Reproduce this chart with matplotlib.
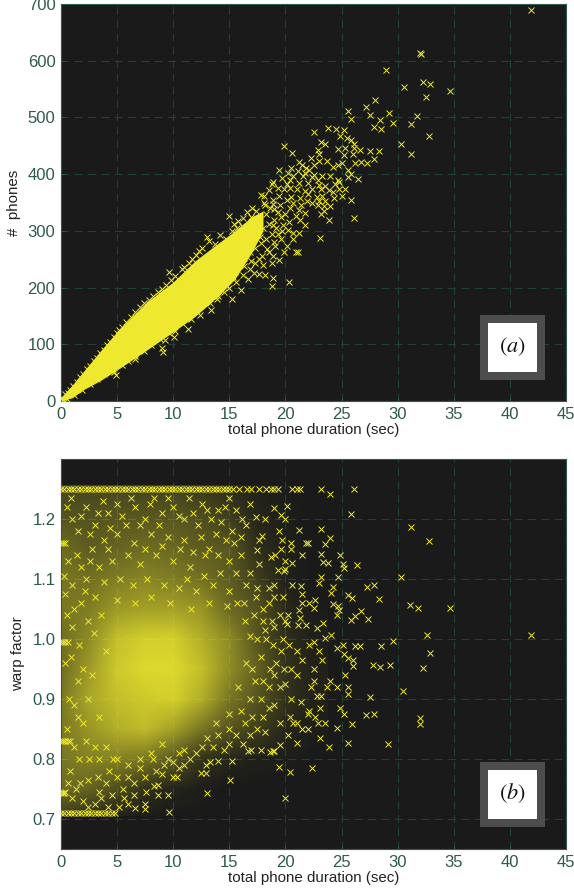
import numpy as np
import matplotlib
matplotlib.use("Agg")
import matplotlib.pyplot as plt
from matplotlib.colors import ListedColormap
from matplotlib.patches import Rectangle

# ---------- panel (a): crosses ----------
a_points = [(41.9,689),(32.0,614),(32.05,611),(29.0,583),(30.6,554),(32.3,563),(32.9,559),(34.65,547),(32.55,536),(28.0,530),
(27.2,518),(25.6,512),(27.5,505),(29.2,507),(25.8,498),(28.4,496),(29.6,491),(31.7,502),(31.2,489),(27.9,483),(28.5,479),
(23.8,481),(24.5,479),(25.2,477),(22.5,475),(32.75,467),(24.9,467),(25.5,463),(25.8,461),(30.3,454),(31.2,436),(19.9,449),
(20.6,437),(23.2,456),(23.5,453),(24.7,444),(25.3,446),(26.1,454),(26.1,446),(26.6,443),(26,436),(27.5,440),(28.3,440),
(27.9,426),(27.3,419),(26.7,422),(26.2,420),(25.2,434),(25,420),(24.7,416),(24.2,412),(23.7,424),(23,423),(23,436),(22.9,443),
(22.3,429),(22.5,417),(21.2,421),(21.5,417),(21.8,411),(21.1,405),(19.4,408),(20.2,402),(25.6,408),(25.8,401),(25.6,395),
(26.5,392),(22.5,399),(22.4,395),(23.3,396),(24,396),(24.7,390),(24.8,387),(19.7,393),(18.8,383),(18.9,387),(20.4,390),
(20.7,396),(21.6,396),(23,381),(23.5,379),(23.2,373),(24.2,368),(25,361),(25.3,373),(24.8,373),(25.8,355),(26.1,322),(24,343),
(23.4,343),(23,352),(22.4,349),(21.9,352),(23.5,352),(23.2,329),(23.4,335),(23.9,320),(23.1,288),(21.1,263),(20.9,263),
(20.3,210),(18.8,203),(18.9,216),(18.2,223),(17.6,224),(21.7,311),(21.2,296),(20.7,296),(20.1,273),(19.1,273),(18.9,255),
(18.8,243),(21.7,332),(21.2,337),(20.7,349),(20.1,355),(19.4,361),(18.9,355),(18.1,361),(17.8,364),(19.9,373),(20.4,376),
(21,373),(21.7,370),(22.4,373),(15,326),(14.2,293),(13,289),(9.6,227),(16,195),(15.2,179),(13.9,179),(13.4,160),(12.4,152),
(11.3,127),(10.1,113),(9.3,108),(9.1,86),(9,93),(6.6,74),(4.9,45),(4.7,52),
(17.0,340),(17.4,335),(16.6,333),(16.2,322),(15.8,318),(15.4,312),(16.9,325),(17.6,322),(18.2,345),(18.6,340),(18.3,330),
(19,338),(19.5,345),(20,330),(19.6,325),(19,320),(18.5,312),(18,305),(17.5,300),(17,296),(19.2,305),(19.8,310),(20.3,315),
(18.8,295),(18.3,285),(17.8,278),(17.3,270),(16.8,262),(16.3,252),(15.9,240),(15.5,228),(19.6,285),(19,280),(18.4,268),
(17.9,255),(17.3,243),(16.8,232),(16.2,222),(15.6,210),(15,200),(14.5,192),(14,185),(13.3,172),(16.7,215),(17.2,225),
(13.2,282),(13.7,276),(14.7,285),(15.2,300),(15.7,305),(12.6,270),(12,258),(11.4,244),(10.8,232),(10.2,220),(9.4,205),
(8.6,192),(7.8,178),(7,165),(6.2,148),(5.4,130),(5,120),(4.4,104),(3.8,90),(3.2,76),(2.6,62),(2,48),(1.4,34),(0.8,20),
(12,165),(11.6,145),(10.8,138),(10.2,124),(9.6,120),(8.8,110),(8,98),(7.4,88),(6.6,80),(6,70),(5.4,63),(4.6,56),(3.8,48),
(3.2,38),(2.6,30),(1.9,20),(1.2,11),(0.5,3),(0.2,2),(0.1,6),(0.4,12),
(18.1,350),(18.9,347),(19.3,333),(20.4,340),(20.9,326),(21.3,320),(20.2,302),(19.3,295),(20.7,285),(19.9,262),(19.4,248),
(18.5,262),(18,240),(17.6,250),(17.1,283),(16.4,300),(16.1,308),(15.6,295),(15.1,282),(14.7,270),(14.3,262),(16.4,275),
(17.7,290),(18.9,310),(19.7,300),(20.5,360),(21.3,358),(22,365),(22.8,360),(23.3,362),(22,385),(21.2,385),(20.1,382),
(19.3,375),(18.5,372),(22.9,390),(24.4,383),(23.9,372),(20.5,410),(21.7,402),(22.1,408),(21.4,345),(22.9,345),(24.3,358),
(16.3,238),(16.9,246),(15.3,218),(14.7,205),(14.2,198),(13.5,190),(13,180),(12.5,172),(12,160),(11.2,150),(10.5,143),
(10,133),(9.3,126),(8.5,115),(7.8,105),(7,95),(6.3,85),(5.7,76),(5,68),(4.2,62),(3.5,55),(2.9,45),(2.2,36),(1.6,27),
(11,237),(11.7,250),(12.3,264),(9.8,214),(9,198),(8.2,185),(7.4,172),(6.6,157),(5.8,140),(5.2,126),(4.7,112),(4.1,98),
(3.5,84),(2.9,70),(2.3,56),(1.7,42),(1.1,27),(.6,14)]

# saturated core of panel (a): lower/upper edge of the solid mass read at these durations
a_core_x  = [0.0, 1.0, 2.0, 3.5, 5.0, 7.5, 10.0, 12.0, 14.0, 15.5, 17.0, 18.0]
a_core_lo = [0,   6,   20,  36,  55,  88,  122,  150,  185,  215,  262,  300]
a_core_hi = [6,   28,  52,  88,  122, 172, 210,  248,  278,  300,  325,  335]

# ---------- panel (b): crosses ----------
b_points = [(41.9,1.006),(34.65,1.051),(32.8,1.163),(31.2,1.187),(30.3,1.103),(31.1,1.057),(31.8,1.051),(32.6,1.006),(29.6,.997),
(32.9,.976),(28.55,.988),(29.3,.956),(28.45,.953),(27.8,.956),(32.25,.951),(30.5,.914),(27.5,.903),(27.2,.874),(27.9,.875),
(32,.869),(32,.859),(29.1,.825),(26.1,1.25),(23.2,1.25),(24,1.242),(25.8,1.208),(23.2,1.183),(24,1.169),(23.5,1.158),(24.9,1.14),
(23.2,1.142),(23.35,1.128),(23.8,1.127),(25.15,1.125),(25.2,1.118),(26.4,1.123),(24.7,1.103),(23.2,1.103),(22.95,1.094),
(24.2,1.086),(24.1,1.076),(27.3,1.086),(27.9,1.09),(28.3,1.066),(25.55,1.074),(25.9,1.068),(24.2,1.059),(24.7,1.055),(24.8,1.049),
(24.6,1.04),(26.7,1.047),(26.2,1.039),(25.8,1.031),(27.4,1.034),(23.35,1.027),(22.85,1.019),(24.1,1.007),(23.5,1.002),
(25.1,.99),(24.6,.985),(26.2,.988),(26.6,.989),(25.2,.975),(25.6,.968),(26,.965),(26,.955),(25.3,.94),(24.6,.92),(25.6,.92),
(25.6,.908),(24,.93),(23.7,.92),(22.5,.95),(22.5,.93),(22.3,.92),(22.8,.905),(23.2,.905),(23.1,.885),(24.9,.885),(25.2,.875),
(25.9,.859),(24.6,.851),(23.1,.835),(25.6,.827),(23.9,.82),(23.5,.86),(22.9,.86),(22.6,.87),(22.1,.88),(22,.85),(21.5,.85),
(21,.86),(21,.826),(20.2,.84),(19.5,.823),(18.9,.813),(18.6,.812),(19,.813),(17.8,.815),(16.7,.814),(16.9,.815),(19.4,.787),
(20.4,.779),(22.4,.785),(15.1,.765),(13,.744),(20,.735),(9.6,.711),(15.2,.797),(14,.797),(13.3,.795),(12.9,.776),(12.5,.777),
(12.9,.79),(11,.79),(10.5,.785),(10,.77),(10.3,.77),(9,.775),(8.6,.757),(8.3,.755),(8.6,.74),(9.5,.74),(7.5,.725),(7.5,.716),
(6.6,.718),(6,.725),(5.2,.72),(20.6,1.25),(21,1.25),(21.3,1.25),(22,1.16),(21.5,1.14),(20.5,1.16),(20.5,1.15),(21.2,1.182),
(20.6,1.127),(20,1.13),(19.9,1.114),(19.3,1.115),(20,1.116),(20.6,1.09),(21.8,1.16),(21.4,1.088),(21.5,1.075),(22.6,1.065),
(22.1,1.06),(22.5,1.052),(21.5,1.06),(21.2,1.048),(21.3,1.035),(21.8,1.023),(21.1,1.023),(20.1,1.025),(20,1.03),(20.2,1.04),
(20,1.2),(20.1,1.222),(19.6,1.206),(19,1.218),(19.4,1.18),(19.7,1.165),(19.6,1.15),(18.7,1.137),(19.1,1.14),(18.2,1.2),
(17.4,1.203),(17.9,1.172),(17.6,1.165),(17.5,1.148),(16.5,1.19),(16.8,1.225),(15.6,1.215),(15.2,1.18),(17.6,1.125),(16.8,1.11),
(17.5,1.085),(18.5,1.085),(19,1.09),(19,1.07),(18.5,1.06),(18,1.05),(17.4,1.07),(19.5,1.04),(18.8,1.03),(18.2,1.015),(17.5,1.0),
(19.6,.98),(20.3,.99),(21,.98),(21.5,.965),(22.1,.99),(22.5,.995),(23,.98),(23.3,.965),(20.5,.95),(21,.94),(20,.925),(19.5,.92),
(18.5,.92),(20.5,.9),(21.4,.895),(22,.875),(19,.89),(18.5,.885),(18,.87),(19.5,.86),(20.4,.87),(20.7,.86),(17.5,.85),(18.2,.845),
(16.8,.84),(16.2,.825),(15,.825),(14.5,.815),(13.5,.82),(12,.81),(11.5,.8),(10.5,.81),(9.5,.8),(8.5,.78),(7.5,.77),(6.5,.76),
(5.5,.75),(4.5,.74),(3.6,.735),(3,.725),(2,.73),(1,.735),(.4,.745),(1.7,.76),(3.3,.77),(.8,.78),(2.5,.8),(4.3,.78),(1.2,.82),
(.5,.85),(2,.86),(.7,.9),(1.5,.93),(.4,.96),(1,1.02),(.5,1.04),(1.8,1.06),(.4,1.075),(1,1.09),(.3,1.105),(2.2,1.1),(.6,1.13),
(1.4,1.14),(2.6,1.13),(3.4,1.12),(1,1.2),(.5,1.22),(1.5,1.18),(2.2,1.22),(3,1.19),(3.7,1.23),(4.2,1.21),(5,1.225),(5.8,1.19),
(6.6,1.22),(7.5,1.2),(8.3,1.235),(9,1.21),(10,1.22),(11,1.2),(11.8,1.21),(12.6,1.225),(13.4,1.2),(14,1.215),(14.6,1.22),
(13.8,1.175),(12.5,1.17),(11,1.165),(9.5,1.17),(8,1.175),(6.5,1.16),(5,1.175),(3.8,1.165),(15.4,1.16),(16,1.14),(15,1.13),
(14,1.14),(12.8,1.14),(11.5,1.12),(10,1.13),(8.5,1.14),(7,1.125),(4.5,1.13),(16.5,1.09),(15,1.08),(13.5,1.09),(12,1.08),
(10.5,1.085),(3,1.07),(2.4,1.03),(1.6,.99),(2.8,.94),(3.4,.87),(4,.82),(5,.8),(6,.79),(7,.8),(8,.81),(9,.825),(16,.88),(16.8,.9),
(17.3,.93),(15.8,.92),(16.5,.96),(17.8,.97),(18.3,1.0),(16.4,1.03),(15.7,1.06),
(.9,1.235),(1.8,1.205),(2.6,1.175),(3.3,1.21),(4.4,1.185),(5.4,1.205),(6.2,1.235),(7,1.19),(7.9,1.225),(8.7,1.19),(9.5,1.235),
(10.5,1.205),(11.4,1.235),(12.2,1.19),(13,1.215),(14.3,1.195),(15,1.235),(16.1,1.2),(16,1.17),(14.7,1.165),(13.2,1.15),
(11.8,1.145),(10.6,1.15),(9,1.155),(7.5,1.15),(6,1.14),(4.2,1.15),(2.8,1.15),(1.8,1.12),(3.8,1.095),(5.3,1.1),(6.4,1.09),
(7.7,1.1),(9.2,1.09),(11.2,1.1),(12.7,1.105),(14.2,1.11),(15.6,1.11),(16.3,1.06),(14.8,1.055),(13.2,1.06),(11.6,1.05),
(9.7,1.06),(8,1.07),(6.6,1.06),(5,1.065),(3.6,1.04),(2.1,1.08),(1.2,1.05),(2.9,1.01),(4,.98),(.9,.97),(2,.95),(1.2,.89),
(2.4,.9),(1.5,.87),(.8,.83),(2.2,.83),(3,.82),(1.6,.8),(3.4,.8),(4.6,.8),(.6,.76),(2.4,.765),(4,.76),(5,.77),(6,.77),(7,.785),
(6.5,.74),(5.6,.735),(4.2,.72),(3.4,.745),(2.4,.72),(1.3,.75),(7.6,.745),(8.2,.8),(9.2,.79),(10,.795),(11,.815),(12.6,.82),
(13,.835),(14,.84),(15,.85),(15.6,.84),(16.4,.86),(17,.87),(13.8,.86),(15,.875),(17.8,.9),(18.6,.95),(19.2,.96),(18.9,.99),
(19.8,1.0),(19,1.02),(19.8,1.07),(18,1.03),(17.2,1.04),(16.8,1.005),(17,.95),(18,.93),(19,.94),(19.9,.95)]

# rows of crosses that pile up at fixed warp factors
b_top_x   = [0.0,.3,.6,.9,1.2,1.5,1.8,2.1,2.4,2.7,3.0,3.3,3.6,3.9,4.2,4.5,4.8,5.1,5.4,5.7,6.0,6.3,6.6,6.9,7.2,7.5,7.8,8.1,8.4,8.7,9.0,
             9.3,9.6,9.9,10.2,10.5,10.8,11.1,11.4,11.7,12.0,12.3,12.6,12.9,13.2,13.5,13.8,14.1,14.4,14.7,15.0,15.3,15.9,16.6,16.9,17.6,18.3,18.7,19.0,19.3]
b_bot_x   = [0.0,.3,.6,.9,1.2,1.5,1.8,2.1,2.4,2.7,3.0,3.3,3.6,3.9,4.2,4.5,4.8]
b_row_995 = [0.0,.2,.4,.6]
b_row_830 = [0.0,.2,.4,.6]
b_row_743 = [0.0,.15,.3]
b_row_1160 = [0.0,.2,.4]

# saturated cloud of panel (b): share of yellow read per cell (rows = warp factor, columns = duration)
b_cover = [[.15,.08,.02,0,0,0,0,0,0,0],
           [.40,.35,.25,.12,.05,.02,0,0,0,0],
           [.45,.50,.50,.45,.30,.12,.06,.03,.02,0],
           [.45,.60,.72,.78,.65,.45,.28,.18,.06,.02],
           [.45,.68,.80,.85,.88,.72,.45,.28,.12,.04],
           [.40,.62,.85,.92,.92,.80,.55,.35,.12,.04],
           [.40,.55,.80,.88,.88,.72,.55,.28,.10,.03],
           [.45,.48,.62,.65,.65,.60,.38,.28,.08,.01],
           [.45,.42,.48,.52,.48,.42,.32,.18,.03,0],
           [.40,.32,.36,.40,.38,.32,.30,.10,.03,0],
           [.28,.28,.30,.30,.30,.26,.18,.06,.02,0],
           [.22,.22,.22,.20,.20,.16,.10,.04,.01,0]]

x_ticks = [0,5,10,15,20,25,30,35,40,45]
a_yticks = [0,100,200,300,400,500,600,700]
b_yticks = [0.7,0.8,0.9,1.0,1.1,1.2]

BG = "#1a1a1a"; YEL = "#eee92f"; TICK = "#2f5b4b"; GRID = "#1d4432"
W, H = 574, 894
plt.rcParams["font.family"] = ["Liberation Sans", "DejaVu Sans"]
fig = plt.figure(figsize=(W/100, H/100), dpi=100, facecolor="white")

def make_axes(l, t, r, b):
    ax = fig.add_axes([l/W, 1-b/H, (r-l)/W, (b-t)/H], facecolor=BG)
    ax.set_axisbelow(True)
    ax.grid(True, color=GRID, lw=0.8, dashes=(7, 5))
    ax.tick_params(direction="in", length=3, width=0.7, color=TICK, labelcolor=TICK, labelsize=12, pad=4)
    for s in ax.spines.values():
        s.set_color(TICK); s.set_linewidth(0.8)
    ax.set_xlim(0, 45); ax.set_xticks(x_ticks)
    ax.set_xlabel("total phone duration (sec)", fontsize=10.9, color="#222222", labelpad=1)
    return ax

def badge(ax, box, text):
    # box given in figure pixels: outer l,t,r,b; the frame is 8 px thick
    l, t, r, b = box
    trans = fig.transFigure
    ax.add_artist(Rectangle((l/W, 1-b/H), (r-l)/W, (b-t)/H, transform=trans, fc="#4d4d4d", ec="none", zorder=10, clip_on=False))
    ax.add_artist(Rectangle(((l+8)/W, 1-(b-8)/H), (r-l-16)/W, (b-t-16)/H, transform=trans, fc="white", ec="none", zorder=11, clip_on=False))
    ax.text((l+r)/2/W, 1-((t+b)/2-1)/H, text, transform=trans, ha="center", va="center", zorder=12,
            math_fontfamily="stix", fontsize=16, color="#111111")

# panel (a)
ax1 = make_axes(61, 4, 566, 401)
ax1.set_ylim(0, 700); ax1.set_yticks(a_yticks)
ax1.set_ylabel("#  phones", fontsize=10.9, color="#222222", labelpad=5)
ax1.fill_between(a_core_x, a_core_lo, a_core_hi, color=YEL, lw=0, zorder=2)
ax, ay = zip(*a_points)
ax1.plot(ax, ay, ls="none", marker="x", ms=4.5, mew=0.7, color=YEL, zorder=3)
badge(ax1, (480, 315, 545, 380), r"$(\mathit{a})$")

# panel (b)
ax2 = make_axes(61, 459, 566, 849)
ax2.set_ylim(0.65, 1.30); ax2.set_yticks(b_yticks)
ax2.set_yticklabels(["0.7","0.8","0.9","1.0","1.1","1.2"])
ax2.set_ylabel("warp factor", fontsize=10.9, color="#222222", labelpad=5)
ramp = np.zeros((256, 4)); ramp[:, :3] = matplotlib.colors.to_rgb(YEL); ramp[:, 3] = np.linspace(0, 1, 256)
im = ax2.imshow(b_cover, origin="lower", extent=(-1.25, 23.75, 0.675, 1.275), aspect="auto",
                interpolation="bilinear", cmap=ListedColormap(ramp), vmin=0, vmax=1, zorder=2)
im.set_clip_path(Rectangle((0, 0.705), 24, 0.552, transform=ax2.transData))
ax2.set_xlim(0, 45); ax2.set_ylim(0.65, 1.30)
bx, by = zip(*b_points)
kw = dict(ls="none", marker="x", ms=4.5, mew=0.7, color=YEL, zorder=3)
ax2.plot(bx, by, **kw)
ax2.plot(b_top_x, [1.25]*len(b_top_x), **kw)
ax2.plot(b_bot_x, [0.71]*len(b_bot_x), **kw)
ax2.plot(b_row_995, [0.995]*len(b_row_995), **kw)
ax2.plot(b_row_830, [0.83]*len(b_row_830), **kw)
ax2.plot(b_row_743, [0.743]*len(b_row_743), **kw)
ax2.plot(b_row_1160, [1.16]*len(b_row_1160), **kw)
badge(ax2, (480, 762, 545, 827), r"$(\mathit{b})$")

fig.savefig("out.png", dpi=100, facecolor="white")
